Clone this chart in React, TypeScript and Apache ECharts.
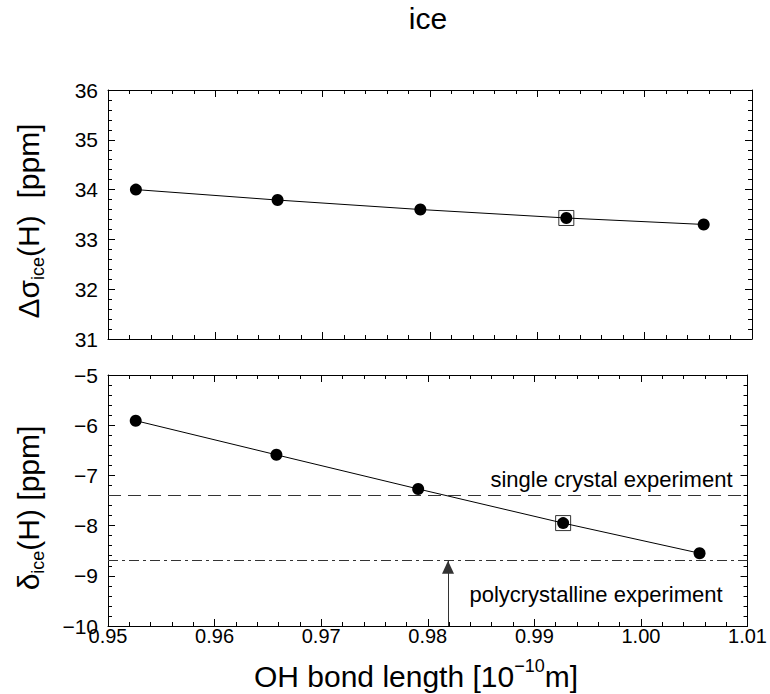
import React, { useEffect, useRef } from "react";
import * as echarts from "echarts";

// ---- data ----
const bondLength = [0.9526, 0.9658, 0.9791, 0.9927, 1.0055];
const shieldingDiff = [34.0, 33.79, 33.6, 33.43, 33.3];
const chemShift = [-5.91, -6.59, -7.27, -7.95, -8.55];
const markedIndex = 3;
const singleCrystalShift = -7.4;
const polycrystallineShift = -8.7;
const arrowBondLength = 0.9819;
const xRange = [0.95, 1.01];
const topYRange = [31, 36];
const bottomYRange = [-10, -5];

const FONT = "Liberation Sans, Arial, Helvetica, sans-serif";
const minus = (v: number | string) => String(v).replace("-", "\u2212");

function xAxisDef(gridIndex: number, position: string, showLabel: boolean) {
  return {
    type: "value",
    gridIndex,
    position,
    min: xRange[0],
    max: xRange[1],
    interval: 0.01,
    axisLine: { show: true, onZero: false, lineStyle: { color: "#000", width: 1 } },
    axisTick: { show: true, inside: true, length: 7, lineStyle: { color: "#000", width: 1 } },
    minorTick: { show: true, splitNumber: 5, length: 4, lineStyle: { color: "#000", width: 1 } },
    splitLine: { show: false },
    axisLabel: {
      show: showLabel,
      formatter: (v: number) => v.toFixed(2),
      fontSize: 20,
      color: "#000",
      margin: 0,
      fontFamily: FONT,
      showMinLabel: true,
      showMaxLabel: true,
    },
  };
}

function yAxisDef(gridIndex: number, position: string, range: number[], showLabel: boolean) {
  return {
    type: "value",
    gridIndex,
    position,
    min: range[0],
    max: range[1],
    interval: 1,
    axisLine: { show: true, onZero: false, lineStyle: { color: "#000", width: 1 } },
    axisTick: { show: true, inside: true, length: 7, lineStyle: { color: "#000", width: 1 } },
    minorTick: { show: true, splitNumber: 5, length: 4, lineStyle: { color: "#000", width: 1 } },
    splitLine: { show: false },
    axisLabel: {
      show: showLabel,
      formatter: (v: number) => minus(v),
      fontSize: 21,
      color: "#000",
      margin: 10,
      fontFamily: FONT,
      showMinLabel: true,
      showMaxLabel: true,
    },
  };
}

export default function App() {
  const ref = useRef<HTMLDivElement>(null);

  useEffect(() => {
    document.body.style.margin = "0";
    if (!ref.current) return;
    const chart = echarts.init(ref.current, undefined, { renderer: "svg" });

    const topData = bondLength.map((x, i) => [x, shieldingDiff[i]]);
    const bottomData = bondLength.map((x, i) => [x, chemShift[i]]);

    const nameRich = {
      m: { fontSize: 30, fontFamily: FONT, color: "#000", lineHeight: 38, verticalAlign: "middle" },
      s: { fontSize: 18, fontFamily: FONT, color: "#000", lineHeight: 18, verticalAlign: "bottom" },
      u: { fontSize: 18, fontFamily: FONT, color: "#000", lineHeight: 18, verticalAlign: "top" },
    };

    chart.setOption({
      animation: false,
      backgroundColor: "#fff",
      textStyle: { fontFamily: FONT },
      grid: [
        { left: 108, top: 90, width: 644, height: 249 },
        { left: 108, top: 375, width: 644, height: 251 },
      ],
      xAxis: [
        xAxisDef(0, "bottom", false),
        xAxisDef(0, "top", false),
        xAxisDef(1, "bottom", true),
        xAxisDef(1, "top", false),
      ],
      yAxis: [
        yAxisDef(0, "left", topYRange, true),
        yAxisDef(0, "right", topYRange, false),
        yAxisDef(1, "left", bottomYRange, true),
        yAxisDef(1, "right", bottomYRange, false),
      ],
      graphic: [
        {
          type: "text",
          x: 428,
          y: 18,
          style: { text: "ice", fontSize: 30, fontFamily: FONT, fill: "#000", align: "center", verticalAlign: "middle" },
        },
        {
          type: "text",
          x: 28,
          y: 221,
          rotation: Math.PI / 2,
          style: {
            text: "{m|\u0394\u03c3}{s|ice}{m|(H)  [ppm]}",
            rich: nameRich,
            align: "center",
            verticalAlign: "middle",
          },
        },
        {
          type: "text",
          x: 28,
          y: 508,
          rotation: Math.PI / 2,
          style: {
            text: "{m|\u03b4}{s|ice}{m|(H) [ppm]}",
            rich: nameRich,
            align: "center",
            verticalAlign: "middle",
          },
        },
        {
          type: "text",
          x: 416,
          y: 676,
          style: {
            text: "{m|OH bond length [10}{u|\u221210}{m|m]}",
            rich: nameRich,
            align: "center",
            verticalAlign: "middle",
          },
        },
      ],
      series: [
        {
          type: "scatter",
          xAxisIndex: 0,
          yAxisIndex: 0,
          data: [topData[markedIndex]],
          symbol: "rect",
          symbolSize: 15,
          itemStyle: { color: "rgba(0,0,0,0)", borderColor: "#000", borderWidth: 1 },
          silent: true,
          z: 2,
        },
        {
          type: "line",
          xAxisIndex: 0,
          yAxisIndex: 0,
          data: topData,
          symbol: "circle",
          symbolSize: 12,
          itemStyle: { color: "#000" },
          lineStyle: { color: "#000", width: 1 },
          silent: true,
          z: 3,
        },
        {
          type: "scatter",
          xAxisIndex: 2,
          yAxisIndex: 2,
          data: [bottomData[markedIndex]],
          symbol: "rect",
          symbolSize: 15,
          itemStyle: { color: "rgba(0,0,0,0)", borderColor: "#000", borderWidth: 1 },
          silent: true,
          z: 2,
        },
        {
          type: "line",
          xAxisIndex: 2,
          yAxisIndex: 2,
          data: bottomData,
          symbol: "circle",
          symbolSize: 12,
          itemStyle: { color: "#000" },
          lineStyle: { color: "#000", width: 1 },
          silent: true,
          z: 3,
          markLine: {
            silent: true,
            symbol: ["none", "none"],
            label: { show: false },
            data: [
              { yAxis: singleCrystalShift, lineStyle: { color: "#333", width: 1, type: [13, 7] } },
              { yAxis: polycrystallineShift, lineStyle: { color: "#333", width: 1, type: [10, 4, 3, 4] } },
              [
                { coord: [arrowBondLength, bottomYRange[0]], symbol: "none", lineStyle: { color: "#333", width: 1, type: "solid" } },
                { coord: [arrowBondLength, polycrystallineShift], symbol: "triangle", symbolSize: [12, 13], symbolOffset: [0, 6.5] },
              ],
            ],
          },
        },
      ],
    });

    const p1 = chart.convertToPixel({ xAxisIndex: 2, yAxisIndex: 2 }, [xRange[1], singleCrystalShift]) as number[];
    const p2 = chart.convertToPixel({ xAxisIndex: 2, yAxisIndex: 2 }, [xRange[1], polycrystallineShift]) as number[];
    chart.setOption({
      graphic: [
        {
          type: "text",
          id: "single",
          x: p1[0] - 15,
          y: p1[1] - 16,
          style: { text: "single crystal experiment", fontSize: 22, fontFamily: FONT, fill: "#000", align: "right", verticalAlign: "middle" },
        },
        {
          type: "text",
          id: "poly",
          x: p2[0] - 25,
          y: p2[1] + 34,
          style: { text: "polycrystalline experiment", fontSize: 22, fontFamily: FONT, fill: "#000", align: "right", verticalAlign: "middle" },
        },
      ],
    });

    return () => chart.dispose();
  }, []);

  return <div ref={ref} style={{ width: 770, height: 694 }} />;
}
